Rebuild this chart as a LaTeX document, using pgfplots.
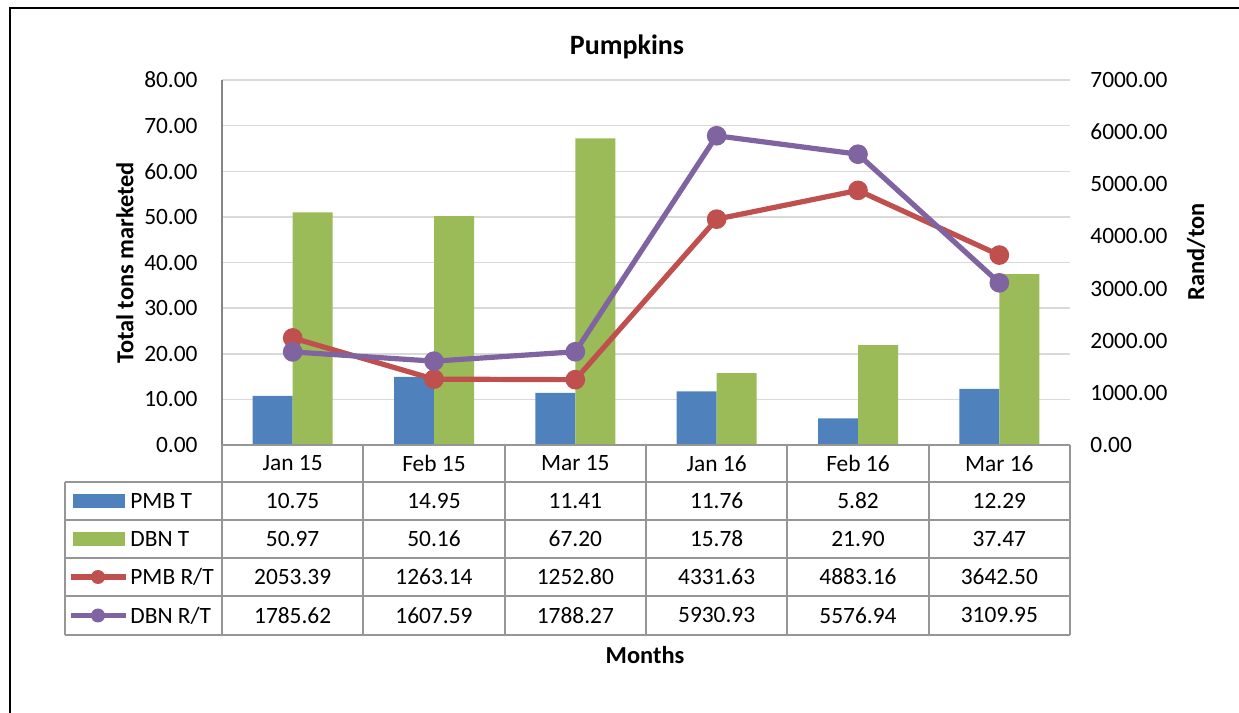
\documentclass[border=0pt]{standalone}
\usepackage{pgfplots}
\pgfplotsset{compat=1.18}
\usepackage{pgfplotstable}
\usepackage{fontspec}
\setmainfont{Carlito}
\definecolor{cBlue}{HTML}{4F81BD}
\definecolor{cGreen}{HTML}{9BBB59}
\definecolor{cRed}{HTML}{C0504D}
\definecolor{cPurple}{HTML}{8064A2}
\definecolor{cGrid}{HTML}{D9D9D9}
\definecolor{cTab}{HTML}{969696}
\definecolor{cAxis}{HTML}{868686}

\pgfplotstableread{
x pmbT dbnT pmbR dbnR
0 10.75 50.97 2053.39 1785.62
1 14.95 50.16 1263.14 1607.59
2 11.41 67.20 1252.80 1788.27
3 11.76 15.78 4331.63 5930.93
4 5.82 21.90 4883.16 5576.94
5 12.29 37.47 3642.50 3109.95
}\data

\begin{document}
\begin{tikzpicture}[font=\fontsize{11.7}{14}\selectfont]
\begin{axis}[
  at={(111pt,134pt)}, anchor=south west, scale only axis,
  width=424pt, height=182.5pt,
  xmin=-0.5, xmax=5.5, ymin=0, ymax=80,
  ytick={0,10,...,80}, xtick=\empty,
  ymajorgrids, grid style={cGrid, line width=0.75pt},
  axis line style={draw=none}, major tick style={draw=none},
  yticklabel style={anchor=east, inner sep=0pt, xshift=-12pt,
    /pgf/number format/.cd, fixed, fixed zerofill, precision=2, 1000 sep={}, assume math mode=true},
  scaled y ticks=false,
]
\addplot[ybar, bar width=20pt, bar shift=-10pt, fill=cBlue, draw=none] table[x=x,y=pmbT]{\data};
\addplot[ybar, bar width=20pt, bar shift=10pt, fill=cGreen, draw=none] table[x=x,y=dbnT]{\data};
\end{axis}
\begin{axis}[
  at={(111pt,134pt)}, anchor=south west, scale only axis,
  width=424pt, height=182.5pt,
  xmin=-0.5, xmax=5.5, ymin=0, ymax=7000,
  ytick={0,1000,...,7000}, xtick=\empty,
  axis line style={draw=none}, major tick style={draw=none},
  axis y line*=right, axis x line=none,
  yticklabel style={anchor=west, inner sep=0pt, xshift=10pt,
    /pgf/number format/.cd, fixed, fixed zerofill, precision=2, 1000 sep={}, assume math mode=true},
  scaled y ticks=false,
]
\addplot[cRed, line width=2.6pt, mark=*, mark size=3.6pt, mark options={fill=cRed, draw=none}] table[x=x,y=pmbR]{\data};
\addplot[cPurple, line width=2.6pt, mark=*, mark size=3.6pt, mark options={fill=cPurple, draw=none}] table[x=x,y=dbnR]{\data};
\end{axis}
\begin{scope}[x=0.5pt,y=0.5pt]
% left axis line
\draw[cAxis, line width=0.75pt] (222,268) -- (222,633);
% data table grid
\begin{scope}[cTab, line width=1pt]
\draw (222,268) -- (1070,268);
\foreach \yy in {231,193,155,117,78} \draw (65,\yy) -- (1070,\yy);
\draw (65,231) -- (65,78);
\foreach \xx in {222,363.33,504.67,646,787.33,928.67,1070} \draw (\xx,268) -- (\xx,78);
\end{scope}
% category labels
\foreach \c/\xx in {Jan 15/292.67, Feb 15/434, Mar 15/575.33, Jan 16/716.67, Feb 16/858, Mar 16/999.33}
  \node at (\xx,249.5) {\c};
\foreach \v/\xx in {10.75/292.67, 14.95/434, 11.41/575.33, 11.76/716.67, 5.82/858, 12.29/999.33}
  \node at (\xx,212) {\v};
\foreach \v/\xx in {50.97/292.67, 50.16/434, 67.20/575.33, 15.78/716.67, 21.90/858, 37.47/999.33}
  \node at (\xx,174) {\v};
\foreach \v/\xx in {2053.39/292.67, 1263.14/434, 1252.80/575.33, 4331.63/716.67, 4883.16/858, 3642.50/999.33}
  \node at (\xx,136) {\v};
\foreach \v/\xx in {1785.62/292.67, 1607.59/434, 1788.27/575.33, 5930.93/716.67, 5576.94/858, 3109.95/999.33}
  \node at (\xx,97.5) {\v};
% legend keys
\fill[cBlue] (73,205) rectangle (125,219);
\fill[cGreen] (73,167) rectangle (125,181);
\draw[cRed, line width=2.6pt] (71,136) -- (126,136);
\fill[cRed] (98,136) circle (7);
\draw[cPurple, line width=2.6pt] (71,97.5) -- (126,97.5);
\fill[cPurple] (98,97.5) circle (7);
\node[anchor=west, inner sep=0pt] at (130,212) {PMB T};
\node[anchor=west, inner sep=0pt] at (130,174) {DBN T};
\node[anchor=west, inner sep=0pt] at (130,136) {PMB R/T};
\node[anchor=west, inner sep=0pt] at (130,97.5) {DBN R/T};
% titles
\node[font=\fontsize{14}{16}\selectfont\bfseries] at (627,666) {Pumpkins};
\node[font=\fontsize{12.2}{14}\selectfont\bfseries] at (645,58) {Months};
\node[font=\fontsize{12.2}{14}\selectfont\bfseries, rotate=90] at (125,450) {Total tons marketed};
\node[font=\fontsize{12.2}{14}\selectfont\bfseries, rotate=90] at (1196,461) {Rand/ton};
% frame
\draw[black, line width=1pt] (10,-20) -- (10,705) -- (1260,705);
\pgfresetboundingbox
\path[use as bounding box] (0,0) rectangle (1239,713);
\end{scope}
\end{tikzpicture}
\end{document}
